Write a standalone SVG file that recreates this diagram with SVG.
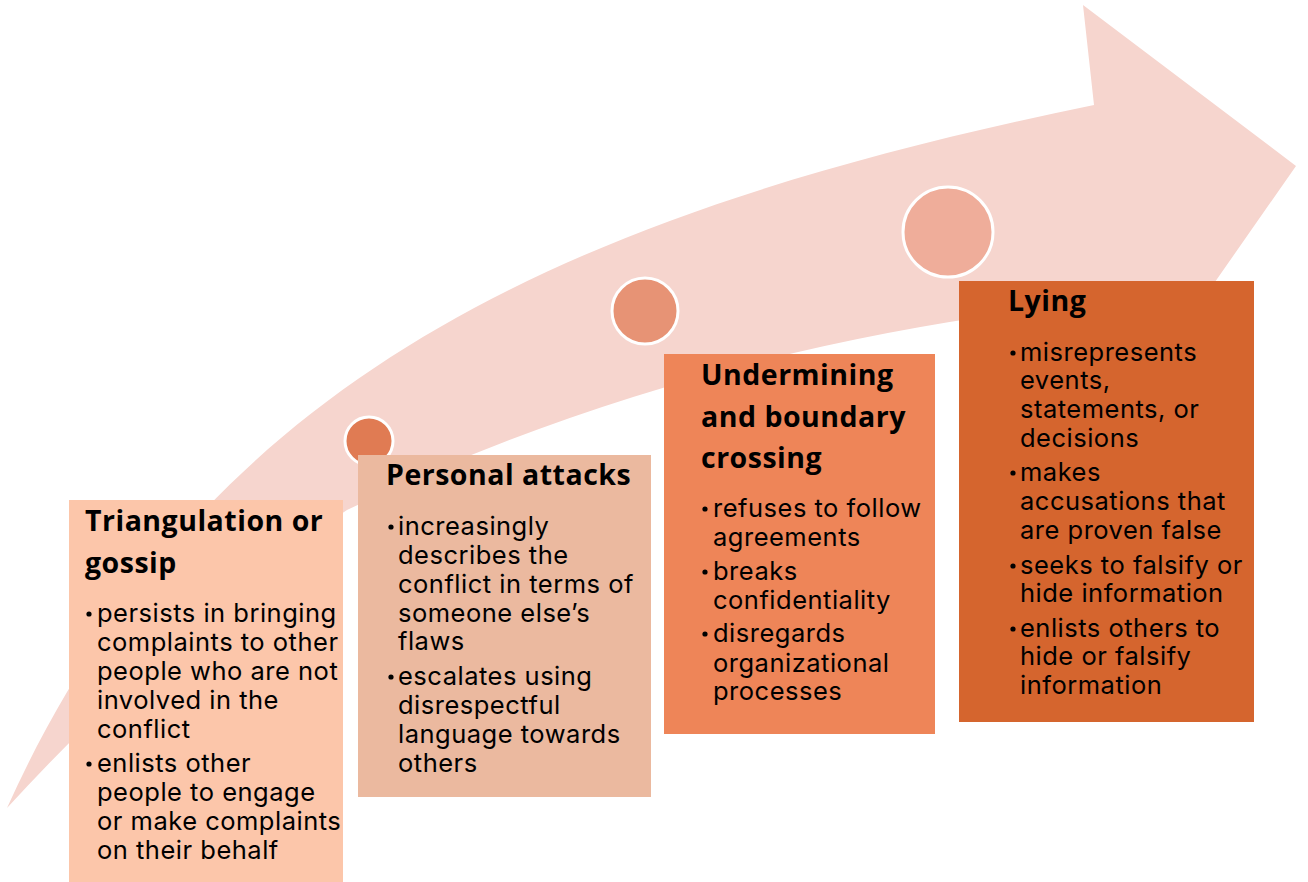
<svg xmlns="http://www.w3.org/2000/svg" width="1308" height="882" viewBox="0 0 1308 882">
  <style>
    .head { font-family: "Open Sans", "Lato", "Liberation Sans", sans-serif; font-weight: 700; font-size: 28.5px; letter-spacing: 0.5px; fill: #000; }
    .body { font-family: "Inter", "Liberation Sans", sans-serif; font-size: 25.5px; letter-spacing: 0.5px; fill: #000; }
    .dot { fill: #000; }
    .ring { stroke: #fff; stroke-width: 3; }
  </style>

  <!-- rising curved arrow in the background -->
  <g id="arrow">
    <path fill="#F6D5CE" d="M7,808 C200,380 560,215 1094,105 L1083,5 L1296,166 L1187,322 L1120,300 Q700,340 347,510 Q180,620 7,808 Z"/>
  </g>

  <!-- step markers on the arrow -->
  <g id="markers">
    <circle class="ring" cx="369" cy="441" r="24" fill="#E07B53"/>
    <circle class="ring" cx="645" cy="311" r="33" fill="#E79375"/>
    <circle class="ring" cx="948" cy="232" r="45" fill="#EFAD9A"/>
  </g>

  <!-- step 1 -->
  <g id="step-triangulation">
    <rect x="69" y="500" width="274" height="382" fill="#FCC6AA"/>
    <text class="head" x="85" y="531">Triangulation or</text>
    <text class="head" x="85" y="573">gossip</text>
    <circle class="dot" cx="89" cy="614" r="2.6"/>
    <text class="body" x="97" y="622">persists in bringing</text>
    <text class="body" x="97" y="651">complaints to other</text>
    <text class="body" x="97" y="680">people who are not</text>
    <text class="body" x="97" y="709">involved in the</text>
    <text class="body" x="97" y="738">conflict</text>
    <circle class="dot" cx="89" cy="764" r="2.6"/>
    <text class="body" x="97" y="772">enlists other</text>
    <text class="body" x="97" y="801">people to engage</text>
    <text class="body" x="97" y="830">or make complaints</text>
    <text class="body" x="97" y="859">on their behalf</text>
  </g>

  <!-- step 2 -->
  <g id="step-personal-attacks">
    <rect x="358" y="455" width="293" height="342" fill="#EBB99F"/>
    <text class="head" x="386" y="485">Personal attacks</text>
    <circle class="dot" cx="391" cy="527" r="2.6"/>
    <text class="body" x="398" y="535">increasingly</text>
    <text class="body" x="398" y="564">describes the</text>
    <text class="body" x="398" y="593">conflict in terms of</text>
    <text class="body" x="398" y="622">someone else’s</text>
    <text class="body" x="398" y="650">flaws</text>
    <circle class="dot" cx="391" cy="677" r="2.6"/>
    <text class="body" x="398" y="685">escalates using</text>
    <text class="body" x="398" y="714">disrespectful</text>
    <text class="body" x="398" y="743">language towards</text>
    <text class="body" x="398" y="772">others</text>
  </g>

  <!-- step 3 -->
  <g id="step-undermining">
    <rect x="664" y="354" width="271" height="380" fill="#EE8558"/>
    <text class="head" x="701" y="385">Undermining</text>
    <text class="head" x="701" y="427">and boundary</text>
    <text class="head" x="701" y="468">crossing</text>
    <circle class="dot" cx="705" cy="509" r="2.6"/>
    <text class="body" x="713" y="517">refuses to follow</text>
    <text class="body" x="713" y="546">agreements</text>
    <circle class="dot" cx="705" cy="572" r="2.6"/>
    <text class="body" x="713" y="580">breaks</text>
    <text class="body" x="713" y="609">confidentiality</text>
    <circle class="dot" cx="705" cy="634" r="2.6"/>
    <text class="body" x="713" y="642">disregards</text>
    <text class="body" x="713" y="672">organizational</text>
    <text class="body" x="713" y="700">processes</text>
  </g>

  <!-- step 4 -->
  <g id="step-lying">
    <rect x="959" y="281" width="295" height="441" fill="#D5652E"/>
    <text class="head" x="1008" y="311">Lying</text>
    <circle class="dot" cx="1013" cy="353" r="2.6"/>
    <text class="body" x="1020" y="361">misrepresents</text>
    <text class="body" x="1020" y="389">events,</text>
    <text class="body" x="1020" y="418">statements, or</text>
    <text class="body" x="1020" y="447">decisions</text>
    <circle class="dot" cx="1013" cy="473" r="2.6"/>
    <text class="body" x="1020" y="481">makes</text>
    <text class="body" x="1020" y="510">accusations that</text>
    <text class="body" x="1020" y="539">are proven false</text>
    <circle class="dot" cx="1013" cy="566" r="2.6"/>
    <text class="body" x="1020" y="574">seeks to falsify or</text>
    <text class="body" x="1020" y="602">hide information</text>
    <circle class="dot" cx="1013" cy="629" r="2.6"/>
    <text class="body" x="1020" y="637">enlists others to</text>
    <text class="body" x="1020" y="665">hide or falsify</text>
    <text class="body" x="1020" y="694">information</text>
  </g>
</svg>
